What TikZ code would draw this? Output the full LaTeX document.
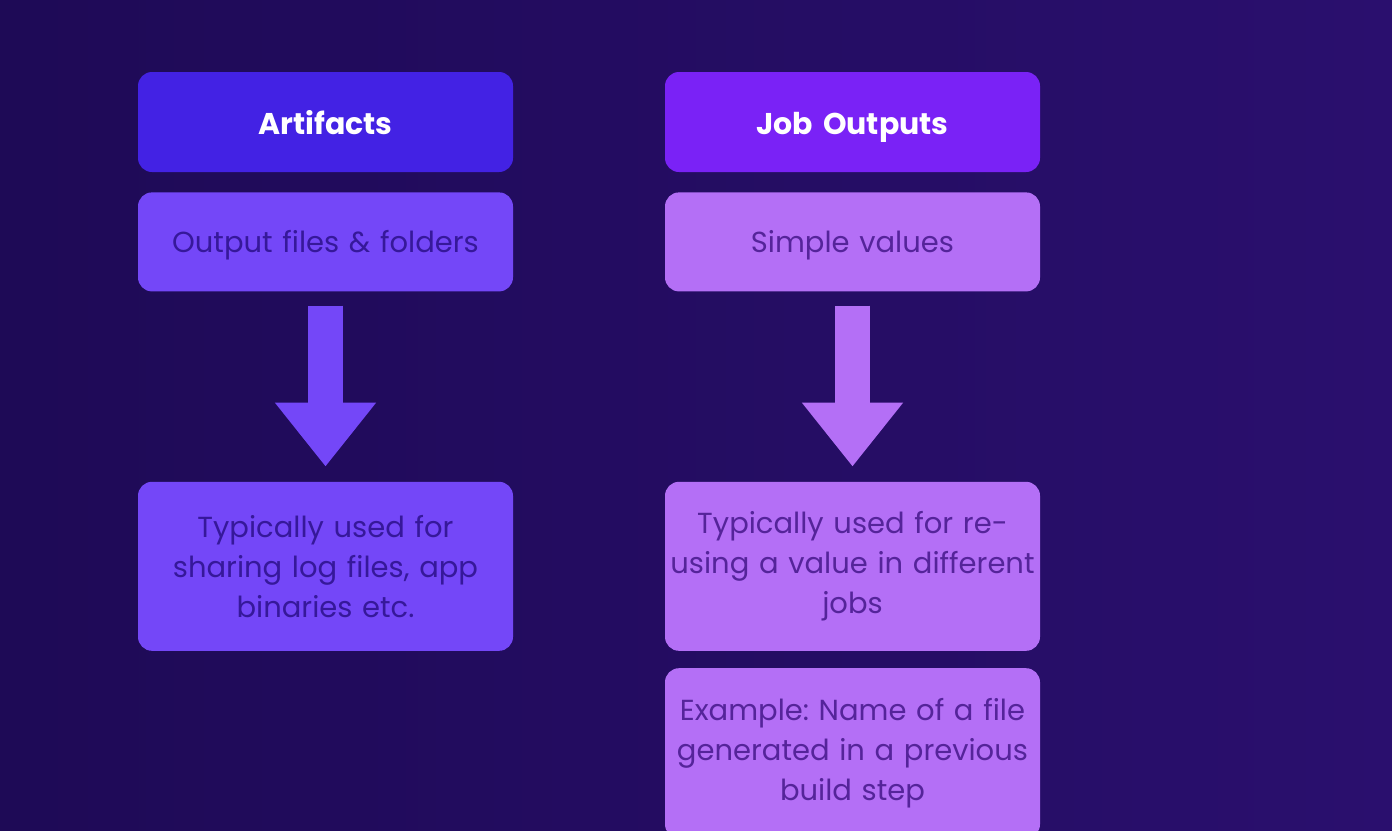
\documentclass[tikz,border=0pt]{standalone}
\usepackage{fontspec}
\setmainfont{Poppins}
\frenchspacing
\usetikzlibrary{positioning,arrows.meta}
\definecolor{bgdark}{HTML}{1E0A56}
\definecolor{bgright}{HTML}{2A0F6E}
\definecolor{artihead}{HTML}{4322E4}
\definecolor{artibox}{HTML}{7447F8}
\definecolor{jobhead}{HTML}{7A22F6}
\definecolor{jobbox}{HTML}{B46FF6}
\definecolor{artitext}{HTML}{36189A}
\definecolor{jobtext}{HTML}{55249A}
\tikzset{
	card/.style={rounded corners=14pt, minimum width=375pt, text width=371pt, align=center, inner sep=0pt},
	headcard/.style={card, minimum height=100pt, text=white, text height=26pt, text depth=2pt, font=\fontsize{30}{38}\selectfont\bfseries},
	textcard/.style={card, font=\fontsize{29}{40}\selectfont},
	linecard/.style={textcard, text height=25pt, text depth=3pt},
	bigarrow/.style={line width=35pt, -{Triangle[width=97pt,length=64pt]}, shorten <=14pt, shorten >=15pt}
}
\begin{document}
\begin{tikzpicture}[x=1pt,y=-1pt, line join=round, node distance=20pt]
		\def\xleft{325.5} \def\xright{852.5} % Spalten
		\useasboundingbox (0,0) rectangle (1392,830);
		\clip (0,0) rectangle (1392,830);
		\shade[left color=bgdark, right color=bgright] (0,0) rectangle (1392,830);
		% Artifacts
		\node[headcard, fill=artihead] (arthead) at (\xleft,122) {Artifacts};
		\node[linecard, fill=artibox, text=artitext, minimum height=99pt, below=of arthead] (artwhat) {Output files \& folders};
		\node[textcard, fill=artibox, text=artitext, minimum height=169pt, below=190pt of artwhat] (artuse) {Typically used for\\ sharing log files, app\\ binaries etc.};
		\draw[bigarrow, artibox] (artwhat) -- (artuse);
		% Job Outputs
		\node[headcard, fill=jobhead] (jobhead) at (\xright,122) {Job Outputs};
		\node[linecard, fill=jobbox, text=jobtext, minimum height=99pt, below=of jobhead] (jobwhat) {Simple values};
		\node[textcard, fill=jobbox, text=jobtext, minimum height=169pt, below=190pt of jobwhat] (jobuse) {Typically used for re-\\ using a value in different\\ jobs};
		\node[textcard, fill=jobbox, text=jobtext, minimum height=170pt, below=17pt of jobuse] (jobex) {Example: Name of a file\\ generated in a previous\\ build step};
		\draw[bigarrow, jobbox] (jobwhat) -- (jobuse);
\end{tikzpicture}
\end{document}
